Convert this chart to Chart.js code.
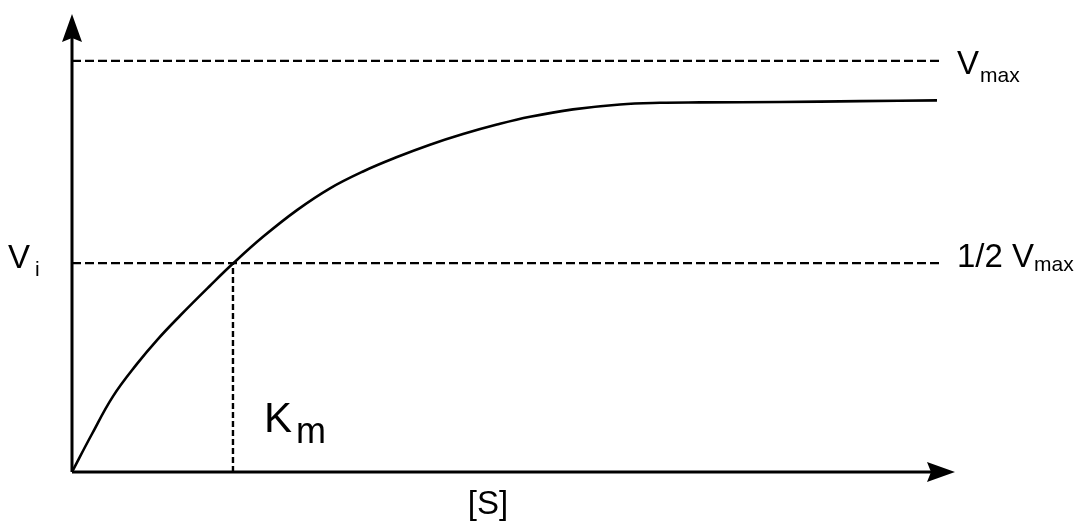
<!DOCTYPE html>
<html>
<head>
<meta charset="utf-8">
<script src="https://cdn.jsdelivr.net/npm/chart.js@4"></script>
<style>
html,body{margin:0;padding:0;background:#fff;}
#wrap{width:1079px;height:522px;}
</style>
</head>
<body>
<div id="wrap"><canvas id="c" width="1079" height="522"></canvas></div>
<script>
// Data (x: substrate concentration [S], y: initial velocity Vi), arbitrary units
const curveS = [0, 2.2, 4.64, 7.36, 9.63, 12.23, 15.63, 18.23, 21.63, 25.48, 29.22, 32.96, 36.81, 40.54, 44.28, 48.13, 51.87, 56.74, 62.06, 66.59, 71.12, 80.18, 89.24, 97.96];
const curveV = [0, 9.0, 18.4, 26.3, 32.1, 38.0, 45.3, 50.7, 57.2, 63.7, 69.0, 73.1, 76.6, 79.6, 82.2, 84.5, 86.4, 88.2, 89.4, 89.8, 89.9, 90.0, 90.2, 90.4];
const vmax = 100;
const halfVmax = 50.8;
const km = 18.23;
const lineEndS = 98.3;
const xMax = 100;
const yMax = 111.4;
const labels = { vmax: "V", vmaxSub: "max", half: "1/2 V", halfSub: "max", vi: "V", viSub: "i", km: "K", kmSub: "m", s: "[S]" };

const FONT = "'Liberation Sans', Arial, sans-serif";

const pts = (xs, ys) => xs.map((x, i) => ({ x, y: ys[i] }));

const annot = {
  id: 'annot',
  afterDraw(chart) {
    const ctx = chart.ctx;
    const xs = chart.scales.x, ys = chart.scales.y;
    const x0 = xs.getPixelForValue(0), y0 = ys.getPixelForValue(0);
    const xEnd = xs.getPixelForValue(xMax), yTop = ys.getPixelForValue(yMax);
    ctx.save();
    ctx.strokeStyle = '#000';
    ctx.fillStyle = '#000';
    ctx.lineWidth = 3;
    ctx.setLineDash([]);
    // axes
    ctx.beginPath();
    ctx.moveTo(x0, y0); ctx.lineTo(x0, yTop + 20);
    ctx.moveTo(x0, y0); ctx.lineTo(xEnd - 20, y0);
    ctx.stroke();
    // y arrow
    ctx.beginPath();
    ctx.moveTo(x0, yTop);
    ctx.lineTo(x0 + 10, yTop + 28);
    ctx.lineTo(x0, yTop + 24);
    ctx.lineTo(x0 - 10, yTop + 28);
    ctx.closePath(); ctx.fill();
    // x arrow
    ctx.beginPath();
    ctx.moveTo(xEnd, y0);
    ctx.lineTo(xEnd - 28, y0 - 10);
    ctx.lineTo(xEnd - 24, y0);
    ctx.lineTo(xEnd - 28, y0 + 10);
    ctx.closePath(); ctx.fill();

    // texts
    ctx.textBaseline = 'alphabetic';
    ctx.textAlign = 'left';
    const yV = ys.getPixelForValue(vmax), yH = ys.getPixelForValue(halfVmax);
    ctx.font = '33px ' + FONT;
    ctx.fillText(labels.vmax, 957, yV + 13);
    ctx.font = '21px ' + FONT;
    ctx.fillText(labels.vmaxSub, 980, yV + 21);

    ctx.font = '33px ' + FONT;
    ctx.fillText(labels.half, 957, yH + 4);
    const w = ctx.measureText(labels.half).width;
    ctx.font = '21px ' + FONT;
    ctx.fillText(labels.halfSub, 957 + w, yH + 8);

    ctx.font = '33px ' + FONT;
    ctx.fillText(labels.vi, 8, 268);
    ctx.font = '21px ' + FONT;
    ctx.fillText(labels.viSub, 35, 276);

    ctx.font = '42px ' + FONT;
    ctx.fillText(labels.km, 264, 432);
    ctx.font = '36px ' + FONT;
    ctx.fillText(labels.kmSub, 296, 443);

    ctx.font = '33px ' + FONT;
    ctx.textAlign = 'center';
    ctx.fillText(labels.s, 488, 514);
    ctx.restore();
  }
};

new Chart(document.getElementById('c'), {
  type: 'scatter',
  data: {
    datasets: [
      { data: pts([0, lineEndS], [vmax, vmax]), showLine: true, borderColor: '#000', borderWidth: 2.2, borderDash: [9, 4], pointRadius: 0, clip: false },
      { data: pts([0, lineEndS], [halfVmax, halfVmax]), showLine: true, borderColor: '#000', borderWidth: 2.2, borderDash: [9, 4], pointRadius: 0, clip: false },
      { data: pts([km, km], [0, halfVmax]), showLine: true, borderColor: '#000', borderWidth: 2.4, borderDash: [6, 3], pointRadius: 0, clip: false },
      { data: pts(curveS, curveV), showLine: true, borderColor: '#000', borderWidth: 2.6, pointRadius: 0, tension: 0.4, clip: false }
    ]
  },
  options: {
    responsive: false,
    animation: false,
    devicePixelRatio: 1,
    layout: { padding: { left: 72, right: 124, top: 14, bottom: 50 } },
    plugins: { legend: { display: false }, tooltip: { enabled: false } },
    scales: {
      x: { type: 'linear', min: 0, max: xMax, display: false },
      y: { type: 'linear', min: 0, max: yMax, display: false }
    }
  },
  plugins: [annot]
});
</script>
</body>
</html>
